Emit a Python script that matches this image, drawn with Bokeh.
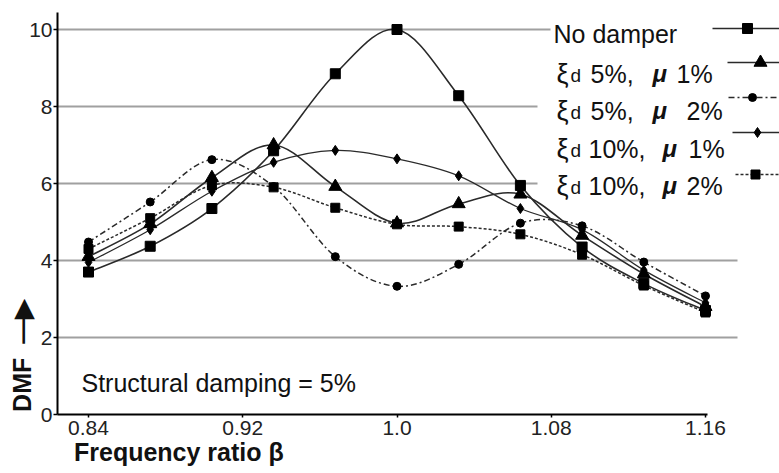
import math
from bokeh.plotting import figure
from bokeh.models import Label, BoxAnnotation, FixedTicker, Range1d
from bokeh.embed import file_html
from bokeh.resources import INLINE

# ---------------- data ----------------
beta = [0.84, 0.872, 0.904, 0.936, 0.968, 1.0, 1.032, 1.064, 1.096, 1.128, 1.16]
no_damper = [3.70, 4.37, 5.35, 6.85, 8.85, 10.0, 8.28, 5.95, 4.35, 3.40, 2.70]
xi5_mu1 = [4.10, 4.95, 6.15, 7.00, 5.92, 4.97, 5.47, 5.72, 4.65, 3.65, 2.80]
xi5_mu2 = [4.48, 5.52, 6.62, 5.92, 4.10, 3.33, 3.90, 4.97, 4.90, 3.96, 3.08]
xi10_mu1 = [3.95, 4.80, 5.80, 6.55, 6.86, 6.64, 6.20, 5.35, 4.80, 3.75, 2.90]
xi10_mu2 = [4.30, 5.10, 5.95, 5.90, 5.37, 4.94, 4.88, 4.68, 4.15, 3.35, 2.65]

x_ticks = [0.84, 0.92, 1.0, 1.08, 1.16]
x_tick_labels = ["0.84", "0.92", "1.0", "1.08", "1.16"]
y_ticks = [0, 2, 4, 6, 8, 10]
x_title = "Frequency ratio \u03b2"
y_title = "DMF\u00a0\u00a0\u2014\u25b6"

# ---------------- layout (window pixel geometry) ----------------
FONT = "Liberation Sans"
INK = "#111111"
LINE = "#2a2a2a"
W, H = 779, 473
KX = 617 / 0.32          # px per unit of beta
KY = 38.5                # px per unit of DMF
FL, FR, FT, FB = 57, 779, 12, 414   # frame edges in window pixels
x_start = 0.84 - (88 - FL) / KX
x_end = 0.84 + (FR - 88) / KX
y_end = (FB - FT) / KY
NB = "\u00a0"


def dx(px):
    return x_start + (px - FL) / KX


def dy(py):
    return (FB - py) / KY


p = figure(width=W, height=H,
           x_range=Range1d(x_start, x_end), y_range=Range1d(0, y_end),
           output_backend="svg", toolbar_location=None,
           min_border_left=FL, min_border_right=W - FR,
           min_border_top=FT, min_border_bottom=H - FB)
p.outline_line_color = None
p.background_fill_color = "white"
p.border_fill_color = "white"

# grid
p.xgrid.visible = False
p.ygrid.ticker = FixedTicker(ticks=y_ticks)
p.ygrid.grid_line_color = "#a0a0a0"
p.ygrid.grid_line_width = 2

# white masks where the reference shows no grid lines (legend area / right margin)
for l, t, b in [(550, None, 44), (537, 44, 196), (737, None, None)]:
    box = BoxAnnotation(left=dx(l), right=None, top=None if t is None else dy(t),
                        bottom=None if b is None else dy(b),
                        fill_color="white", fill_alpha=1.0, line_color=None, level="underlay")
    p.add_layout(box)

# axes
p.xaxis.ticker = FixedTicker(ticks=x_ticks)
p.xaxis.major_label_overrides = {t: s for t, s in zip(x_ticks, x_tick_labels)}
p.xaxis.bounds = (x_start, 1.161)
p.yaxis.ticker = FixedTicker(ticks=y_ticks)
for ax in (p.xaxis[0], p.yaxis[0]):
    ax.axis_line_color = "black"
    ax.axis_line_width = 2
    ax.major_tick_line_color = "black"
    ax.major_tick_line_width = 1.5
    ax.major_tick_in = 0
    ax.minor_tick_out = 0
    ax.minor_tick_in = 0
    ax.major_label_text_font = FONT
    ax.major_label_text_font_size = "21px"
    ax.major_label_text_color = "#222222"
    ax.axis_label_text_font = FONT
    ax.axis_label_text_font_size = "25px"
    ax.axis_label_text_font_style = "bold"
    ax.axis_label_text_color = INK
p.xaxis.major_tick_out = 3
p.xaxis.major_label_standoff = 3
# titles are centred by Bokeh: trailing no-break spaces push the visible words to the start
p.xaxis.axis_label = x_title + NB * 69
p.xaxis.axis_label_standoff = 0
p.yaxis.major_tick_out = 4
p.yaxis.major_label_standoff = 1
p.yaxis.axis_label = y_title + NB * 41
p.yaxis.axis_label_standoff = -10


# smoothed curves (cubic Bezier segments built from the data points)
def smooth(xs, ys, **kw):
    n = len(xs)
    x0, y0, x1, y1, cx0, cy0, cx1, cy1 = [], [], [], [], [], [], [], []
    for i in range(n - 1):
        a = max(i - 1, 0)
        d = min(i + 2, n - 1)
        x0.append(xs[i]); y0.append(ys[i])
        x1.append(xs[i + 1]); y1.append(ys[i + 1])
        cx0.append(xs[i] + (xs[i + 1] - xs[a]) / 6)
        cy0.append(ys[i] + (ys[i + 1] - ys[a]) / 6)
        cx1.append(xs[i + 1] - (xs[d] - xs[i]) / 6)
        cy1.append(ys[i + 1] - (ys[d] - ys[i]) / 6)
    p.bezier(x0=x0, y0=y0, x1=x1, y1=y1, cx0=cx0, cy0=cy0, cx1=cx1, cy1=cy1, **kw)


series = [
    (no_damper, "solid", 1.6, "square", 10),
    (xi5_mu1, "solid", 1.6, "triangle", 13),
    (xi5_mu2, "6 3 2 3", 1.5, "circle", 8),
    (xi10_mu1, "solid", 1.3, "diamond", 10),
    (xi10_mu2, "3 2", 1.5, "square", 9),
]
for ys, dash, lw, mk, sz in series:
    smooth(beta, ys, line_color=LINE, line_width=lw, line_dash=dash)
for ys, dash, lw, mk, sz in series:
    p.scatter(beta, ys, marker=mk, size=sz, fill_color="black", line_color="black")

# ---------------- legend (text left, sample right) ----------------
rows = [
    # baseline y, sample y, line start x, marker x
    (33, 28, 712, 747),
    (73, 62, 727, 760),
    (110, 97, 728, 752),
    (148, 132, 732, 757),
    (185, 174, 735, 755),
]
p.add_layout(Label(x=dx(553), y=dy(rows[0][0]), text="No damper", text_font=FONT,
                   text_font_size="25px", text_color=INK, text_baseline="alphabetic"))
legend_parts = [
    ("5%,", 590, 652, " 1%", 676),
    ("5%,", 590, 652, " 2%", 686),
    ("10%,", 588, 662, "1%", 688),
    ("10%,", 588, 662, " 2%", 686),
]
for (pct, xp, xm, tail, xt), row in zip(legend_parts, rows[1:]):
    base = row[0]
    p.add_layout(Label(x=dx(556), y=dy(base), text="\u03be", text_font=FONT, text_font_size="27px",
                       text_color=INK, text_baseline="alphabetic"))
    p.add_layout(Label(x=dx(570), y=dy(base + 2), text="d", text_font=FONT, text_font_size="19px",
                       text_color=INK, text_baseline="alphabetic"))
    p.add_layout(Label(x=dx(xp), y=dy(base), text=pct, text_font=FONT, text_font_size="25px",
                       text_color=INK, text_baseline="alphabetic"))
    p.add_layout(Label(x=dx(xm), y=dy(base), text="\u03bc", text_font=FONT, text_font_size="24px",
                       text_font_style="bold italic", text_color=INK, text_baseline="alphabetic"))
    p.add_layout(Label(x=dx(xt), y=dy(base), text=tail, text_font=FONT, text_font_size="25px",
                       text_color=INK, text_baseline="alphabetic"))

for (ys, dash, lw, mk, sz), (base, ly, lx, mx) in zip(series, rows):
    p.line([dx(lx), dx(FR)], [dy(ly), dy(ly)], line_color=LINE, line_width=lw, line_dash=dash)
    p.scatter([dx(mx)], [dy(ly)], marker=mk, size=sz, fill_color="black", line_color="black")

# ---------------- annotation ----------------
p.add_layout(Label(x=dx(81), y=dy(382), text="Structural damping = 5%", text_font=FONT,
                   text_font_size="25px", text_color=INK, text_baseline="alphabetic"))

open("out.html", "w").write(file_html(p, INLINE))
